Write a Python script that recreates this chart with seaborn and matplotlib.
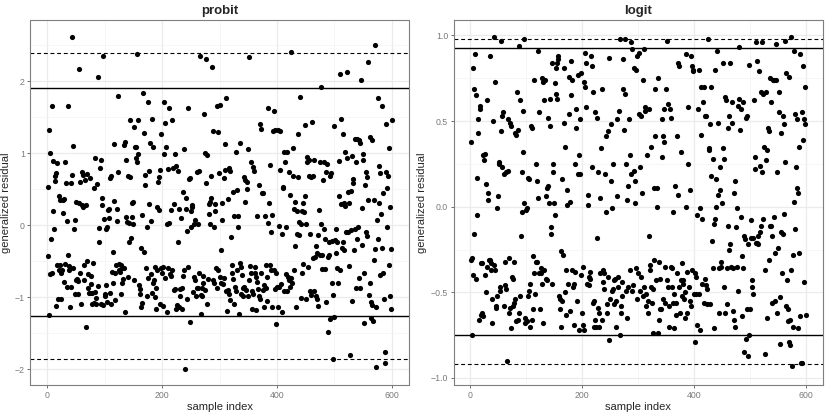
import numpy as np
import seaborn as sns
import matplotlib.pyplot as plt
from matplotlib.ticker import MultipleLocator

# generalized residuals, 600 samples each (rows of 20)
probit_resid = [
    -0.43, 0.53, 1.32, -1.25, 1.00, -0.68, -0.20, 1.65, -0.67, 0.89, 0.20, -0.06, 0.68, 0.61, 0.72, -1.13, 0.86, -0.56, -1.03, -0.62,
    0.41, -0.56, 0.35, -1.03, -0.67, -0.63, 0.35, 0.17, 0.36, -0.79, 0.88, -0.54, 0.59, 0.06, -0.86, 1.65, -0.41, -0.62, -0.57, -1.14,
    -0.86, 0.59, 0.70, 2.61, 1.10, -0.60, -0.06, -0.96, 0.07, -0.76, 0.32, -0.75, -0.95, -0.77, 2.16, 0.31, -0.67, 0.60, -1.09, 0.73,
    0.28, 0.70, 0.25, -0.76, -0.55, 0.62, -1.41, 0.28, -0.50, 0.71, -0.68, -0.87, -0.94, 0.66, -0.94, -0.82, -0.70, -0.94, -1.09, -0.53,
    0.52, -1.08, 0.93, -0.93, -1.09, -1.01, 0.57, 2.06, -0.85, -0.04, -0.23, 0.79, 0.90, -1.10, 0.28, 0.38, 2.35, -1.11, 0.09, -0.96,
    -0.99, -0.83, -0.05, -0.03, -1.07, 0.21, 0.23, 0.10, 0.65, -0.94, 0.68, -1.10, -0.65, -0.38, -0.81, 1.12, 0.34, -0.67, -1.04, -0.55,
    0.22, 0.05, 0.74, 1.79, -0.63, -0.54, -0.65, -0.56, -0.96, -0.60, -0.81, -0.75, -0.60, 1.11, -1.21, 1.15, 0.91, 0.11, 0.04, -0.72,
    0.68, 0.03, -0.23, 0.67, 1.46, -0.18, 0.31, 0.11, 0.32, 0.02, -0.76, 1.36, 1.09, 0.93, 1.09, 0.88, 2.38, 1.46, 0.98, -0.83,
    -0.89, -0.96, -1.14, -0.32, -1.08, 0.14, 1.83, 1.28, -0.38, 0.70, 0.55, -0.60, -0.99, -0.02, 1.71, -0.74, 0.75, 0.29, 1.14, -0.68,
    0.05, 1.47, -0.94, 1.09, -0.81, -0.76, -1.00, -0.58, -0.88, -1.17, 0.25, -0.62, 0.60, 0.67, 0.21, -1.09, 0.77, -0.60, 1.26, -0.67,
    -0.58, -1.12, 0.98, 1.71, -0.73, 1.42, 1.09, 0.01, -1.20, 0.78, -0.60, 0.03, 1.62, -0.68, 0.21, -0.70, 1.46, -0.62, 0.79, -0.90,
    0.29, -0.89, 0.99, -1.16, 0.82, -1.11, -0.24, 0.75, 0.23, -1.14, -0.89, -0.99, 0.10, -1.16, -0.88, 0.46, -0.70, 1.05, -0.63, -2.00,
    0.22, 0.38, -0.08, -1.03, -0.58, 1.62, 0.64, -1.35, 0.66, 0.20, -0.03, 0.25, 0.28, -0.93, 0.01, -0.72, -0.76, 0.07, -0.99, -0.88,
    0.73, -0.88, 0.01, 0.75, -0.66, 2.35, -0.97, -1.24, -0.88, -0.99, -0.81, -0.70, 1.54, 1.00, -0.90, 2.30, 0.59, 0.97, -1.09, -0.75,
    0.29, 0.16, 0.02, 0.32, 0.68, 0.38, 2.19, -0.76, 1.30, -0.81, -0.02, 0.19, 0.29, -0.60, 1.65, -0.88, 1.29, -0.62, 0.72, -0.72,
    1.67, -0.35, -0.81, 0.30, 0.07, -0.82, 0.66, -0.74, 1.13, 0.77, -0.91, 1.76, -1.19, -0.90, 0.36, 0.79, -0.95, -1.04, 0.75, -0.17,
    -0.56, -0.67, 0.46, -0.75, -1.10, 0.13, -0.86, -0.91, 1.02, 0.49, -0.63, -0.02, 0.13, -1.23, -0.52, 1.14, -0.58, -0.95, -0.69, -0.98,
    -0.88, -0.86, 0.67, 0.32, 0.62, -0.90, 0.60, 0.50, 1.06, -0.99, 2.34, -0.76, -0.57, 0.88, -0.66, -0.91, -1.16, 0.81, -0.95, 0.75,
    -0.58, -0.67, -1.18, -0.72, -0.79, 0.12, -0.89, 0.55, -0.98, -1.02, 1.41, -0.67, 1.34, 0.44, -0.90, 0.44, -0.83, -1.14, 0.13, -0.56,
    -0.87, -0.72, -1.05, 0.03, 1.62, 0.31, 0.83, -0.56, -0.10, -0.62, -1.14, 0.14, 1.30, -0.62, 1.59, 1.32, -0.89, -0.67, -1.37, -0.86,
    1.32, -1.14, -0.01, -0.86, 1.31, 0.76, -0.82, -0.13, -1.20, 0.52, 0.53, -0.92, 1.02, 0.87, -0.02, -0.68, -0.91, 1.02, -0.72, -0.76,
    0.73, -0.86, 0.42, -0.74, 2.40, -0.81, 0.68, 1.07, -0.62, 0.22, -0.29, 0.32, -1.14, 0.19, -0.12, 1.27, 0.67, 0.04, -0.14, 1.78,
    -1.01, 0.01, 0.20, -0.66, 0.30, -0.54, 0.18, 1.39, 0.41, 0.02, -1.03, 0.95, 0.87, -0.58, 0.90, 0.68, -0.13, -0.92, 0.67, -0.97,
    1.43, -0.46, 0.68, -0.91, 0.90, -0.45, -0.29, -0.99, -0.39, -1.02, -1.13, -0.14, 0.21, -0.41, 0.88, 0.01, 1.91, -0.42, -0.61, 0.62,
    0.88, -0.06, -0.19, -0.61, 0.74, -1.07, 0.85, -0.45, -1.48, -0.23, -0.42, 0.68, -1.31, 0.72, -0.22, -0.81, -0.97, -1.86, 1.37, -1.27,
    -0.21, -0.39, -0.05, -0.59, -0.24, -0.80, 0.41, 0.89, -0.63, 2.10, 1.47, 0.29, -0.32, -0.23, 1.27, -0.34, 0.31, 1.01, 0.26, -0.09,
    2.12, 0.93, -0.09, 0.46, -0.57, 0.31, -1.81, 0.48, -0.07, -1.06, 0.96, 0.64, 0.58, -0.35, -0.05, 1.19, -0.87, 0.88, 1.20, -0.20,
    -0.03, -0.74, 1.18, -0.88, 1.14, 2.01, 0.24, -0.27, 0.99, 0.90, -1.36, -0.67, 0.55, 0.74, -0.10, -0.15, 0.67, 0.35, 2.27, -0.97,
    1.22, -0.80, -1.07, -1.29, 1.18, -1.11, -1.33, 0.35, -0.49, 2.50, -0.33, -1.14, -1.97, 0.07, 1.77, -0.20, 0.82, 0.31, -0.69, 0.72,
    0.16, -0.32, 1.65, -0.67, 0.45, -1.02, -1.91, -1.76, 1.41, 0.74, -0.02, 0.52, 0.68, -0.56, 1.07, -0.98, 0.25, -0.33, -1.17, 1.46,
]

logit_resid = [
    0.38, -0.31, -0.30, -0.75, 0.81, -0.40, 0.69, -0.16, 0.89, -0.42, 0.65, -0.05, 0.17, 0.51, 0.43, -0.66, 0.57, 0.59, -0.33, -0.63,
    -0.33, -0.62, -0.64, 0.30, 0.27, 0.31, -0.40, 0.13, -0.50, 0.62, -0.35, 0.08, 0.04, -0.31, 0.88, -0.31, -0.37, -0.33, -0.54, -0.68,
    0.50, -0.34, 0.99, 0.73, -0.37, -0.58, -0.59, -0.01, -0.52, 0.06, 0.25, 0.26, -0.47, -0.49, 0.97, 0.44, 0.53, 0.23, 0.55, -0.58,
    0.19, -0.32, -0.46, 0.20, -0.48, -0.90, 0.21, 0.51, -0.30, -0.62, 0.49, -0.59, 0.47, -0.71, -0.41, -0.58, -0.42, -0.32, -0.56, 0.43,
    -0.54, -0.67, 0.42, 0.67, -0.66, 0.45, -0.62, 0.94, -0.52, 0.62, -0.17, -0.03, 0.20, 0.56, 0.32, 0.02, 0.98, -0.68, -0.65, -0.02,
    -0.01, -0.67, -0.52, 0.17, -0.49, 0.16, -0.70, -0.45, 0.47, 0.46, -0.66, -0.60, -0.29, -0.39, 0.74, -0.51, 0.25, -0.32, 0.15, -0.32,
    0.05, 0.91, 0.55, -0.39, -0.60, -0.39, -0.36, 0.75, -0.45, 0.73, -0.68, -0.37, 0.62, 0.74, -0.42, 0.06, -0.43, 0.11, 0.52, 0.12,
    0.02, 0.63, 0.47, -0.16, -0.12, 0.84, -0.45, 0.20, 0.25, 0.02, -0.05, 0.72, 0.81, 0.66, 0.63, 0.84, 0.88, 0.86, -0.52, -0.54,
    -0.60, -0.70, -0.26, -0.55, 0.16, -0.28, 0.49, 0.81, 0.35, -0.50, -0.37, -0.63, 0.01, 0.10, -0.45, 0.76, 0.54, -0.61, 0.03, 0.65,
    0.85, 0.74, -0.37, -0.47, -0.69, -0.45, -0.38, 0.25, 0.57, 0.46, -0.55, 0.19, 0.77, -0.72, 0.30, 0.19, 0.51, -0.40, 0.78, -0.62,
    -0.69, -0.35, -0.72, 0.73, 0.70, 0.90, 0.84, 0.58, -0.45, 0.01, 0.07, -0.41, -0.46, -0.42, -0.38, 0.88, 0.82, 0.23, 0.67, -0.56,
    -0.70, -0.55, -0.66, 0.55, -0.70, -0.18, 0.52, -0.59, 0.20, -0.62, -0.70, 0.05, -0.39, 0.34, -0.66, 0.69, -0.37, -0.44, -0.48, -0.39,
    0.19, -0.03, 0.41, -0.62, -0.57, -0.41, 0.44, -0.78, 0.87, -0.54, 0.15, 0.48, -0.49, -0.01, 0.25, -0.48, -0.57, -0.43, -0.42, -0.70,
    -0.55, 0.51, 0.06, -0.47, -0.41, 0.56, -0.75, 0.98, -0.58, -0.62, -0.52, -0.44, 0.86, 0.69, 0.45, 0.98, 0.66, -0.49, 0.25, -0.65,
    0.04, 0.12, -0.47, 0.51, -0.37, 0.30, 0.96, 0.19, -0.49, 0.92, -0.46, 0.81, 0.21, 0.15, 0.02, -0.36, 0.80, -0.54, 0.88, -0.39,
    0.54, 0.90, -0.49, 0.23, -0.41, 0.53, 0.08, -0.52, 0.74, -0.47, 0.92, 0.58, 0.56, -0.58, -0.51, 0.30, -0.55, -0.62, 0.57, -0.17,
    -0.34, -0.37, 0.35, -0.47, -0.56, -0.74, -0.48, 0.11, -0.31, 0.69, 0.41, -0.43, 0.11, 0.00, -0.74, 0.75, -0.66, -0.32, -0.60, -0.42,
    -0.60, 0.51, 0.29, 0.41, -0.54, 0.38, 0.57, -0.35, -0.56, 0.69, 0.97, -0.43, 0.60, -0.47, -0.70, -0.58, 0.57, -0.35, 0.52, -0.47,
    -0.36, -0.56, -0.03, -0.51, -0.71, 0.12, -0.56, -0.63, -0.39, 0.41, 0.07, 0.84, -0.47, 0.82, -0.62, -0.43, 0.32, -0.52, -0.33, -0.45,
    -0.43, -0.54, -0.65, -0.50, 0.00, 0.89, -0.38, -0.62, 0.25, 0.58, -0.47, -0.55, 0.10, -0.58, 0.88, 0.82, -0.37, 0.80, 0.79, -0.51,
    -0.39, -0.79, -0.41, -0.51, -0.69, -0.05, 0.57, -0.51, 0.80, -0.72, -0.01, 0.42, 0.70, -0.07, -0.45, 0.61, -0.56, 0.70, -0.42, 0.53,
    -0.46, 0.53, -0.48, -0.57, 0.98, 0.34, 0.33, 0.48, -0.57, 0.18, 0.70, -0.20, -0.36, 0.28, -0.71, -0.10, -0.07, 0.80, 0.16, 0.00,
    0.91, 0.49, 0.07, -0.62, -0.36, 0.23, 0.10, -0.35, -0.32, 0.02, 0.84, 0.34, -0.47, 0.28, -0.62, 0.64, 0.62, -0.36, -0.57, 0.46,
    -0.11, -0.25, 0.53, -0.22, 0.84, -0.35, 0.61, 0.49, -0.36, -0.61, 0.08, -0.66, -0.70, 0.15, -0.12, -0.01, -0.35, 0.59, -0.49, 0.93,
    0.63, 0.45, -0.06, 0.57, -0.64, -0.29, 0.61, -0.36, -0.17, -0.85, -0.19, 0.52, -0.77, 0.53, -0.60, -0.22, -0.87, 0.83, -0.75, -0.60,
    -0.18, -0.08, -0.47, -0.43, -0.51, -0.18, 0.62, 0.29, 0.22, -0.21, 0.96, 0.85, -0.21, -0.17, -0.22, 0.79, 0.24, -0.15, -0.11, 0.67,
    0.96, 0.20, 0.66, -0.07, 0.35, -0.37, -0.86, 0.27, 0.67, -0.65, 0.33, 0.46, -0.31, 0.44, -0.11, 0.75, 0.61, -0.11, -0.17, -0.56,
    0.74, -0.06, 0.74, -0.27, -0.55, 0.95, 0.74, -0.62, 0.20, -0.24, 0.67, 0.55, -0.53, -0.80, 0.43, -0.15, -0.39, 0.53, -0.16, -0.04,
    0.48, 0.26, 0.97, -0.58, 0.78, -0.43, -0.60, -0.67, -0.79, 0.76, -0.81, -0.66, 0.99, -0.37, -0.93, -0.28, -0.70, 0.91, 0.03, -0.13,
    0.54, 0.23, 0.51, 0.11, 0.08, -0.71, 0.35, -0.27, 0.89, -0.64, -0.91, -0.91, 0.55, 0.82, 0.39, 0.51, -0.44, 0.70, 0.48, -0.63,
]

sample_index = np.arange(1, len(probit_resid) + 1)

# reference lines (solid = inner bounds, dashed = outer bounds)
probit_solid = [1.90, -1.26]
probit_dashed = [2.39, -1.86]
logit_solid = [0.928, -0.749]
logit_dashed = [0.979, -0.918]

probit_yticks = [-2, -1, 0, 1, 2]
logit_yticks = [-1.0, -0.5, 0.0, 0.5, 1.0]
logit_yticklabels = ['\u22121.0', '\u22120.5', '0.0', '0.5', '1.0']
x_ticks = [0, 200, 400, 600]

sns.set_style('white')
plt.rcParams['font.family'] = ['Liberation Sans', 'DejaVu Sans']

W, H = 830, 415
fig = plt.figure(figsize=(W / 100, H / 100), dpi=100)

def panel(left, right, top, bottom):
    return fig.add_axes([left / W, 1 - bottom / H, (right - left) / W, (bottom - top) / H])

ax1 = panel(30.4, 409.2, 20.5, 385.0)
ax2 = panel(453.8, 822.8, 20.5, 385.0)

panels = [
    (ax1, probit_resid, probit_solid, probit_dashed, 'probit', (-2.22, 2.84), 0.5),
    (ax2, logit_resid, logit_solid, logit_dashed, 'logit', (-1.041, 1.087), 0.25),
]

for ax, resid, solid, dashed, title, ylim, minor in panels:
    ax.set_axisbelow(True)
    ax.grid(which='major', color='#EBEBEB', linewidth=0.9)
    ax.grid(which='minor', color='#F3F3F3', linewidth=0.5)
    ax.xaxis.set_minor_locator(MultipleLocator(100))
    ax.yaxis.set_minor_locator(MultipleLocator(minor))
    sns.scatterplot(x=sample_index, y=resid, ax=ax, color='black', s=14,
                    linewidth=0, zorder=3)
    for v in solid:
        ax.axhline(v, color='black', linewidth=1.0, zorder=2)
    for v in dashed:
        ax.axhline(v, color='black', linewidth=0.8, linestyle=(0, (3.5, 2.5)), zorder=2)
    ax.set_xlim(-28.95, 629.95)
    ax.set_ylim(*ylim)
    ax.set_xticks(x_ticks)
    ax.set_xlabel('sample index', fontsize=8, labelpad=2)
    ax.set_ylabel('generalized residual', fontsize=8, labelpad=3)
    ax.set_title(title, fontsize=9.5, fontweight='bold', pad=5)
    ax.tick_params(which='major', length=2.5, width=0.6, color='#555555',
                   labelsize=6.3, labelcolor='#7A7A7A', pad=1.5,
                   bottom=True, left=True)
    ax.tick_params(which='minor', length=0)
    for s in ax.spines.values():
        s.set_color('#7F7F7F')
        s.set_linewidth(0.8)

ax1.set_yticks(probit_yticks)
ax2.set_yticks(logit_yticks)
ax2.set_yticklabels(logit_yticklabels)

fig.savefig('out.png', dpi=100)
